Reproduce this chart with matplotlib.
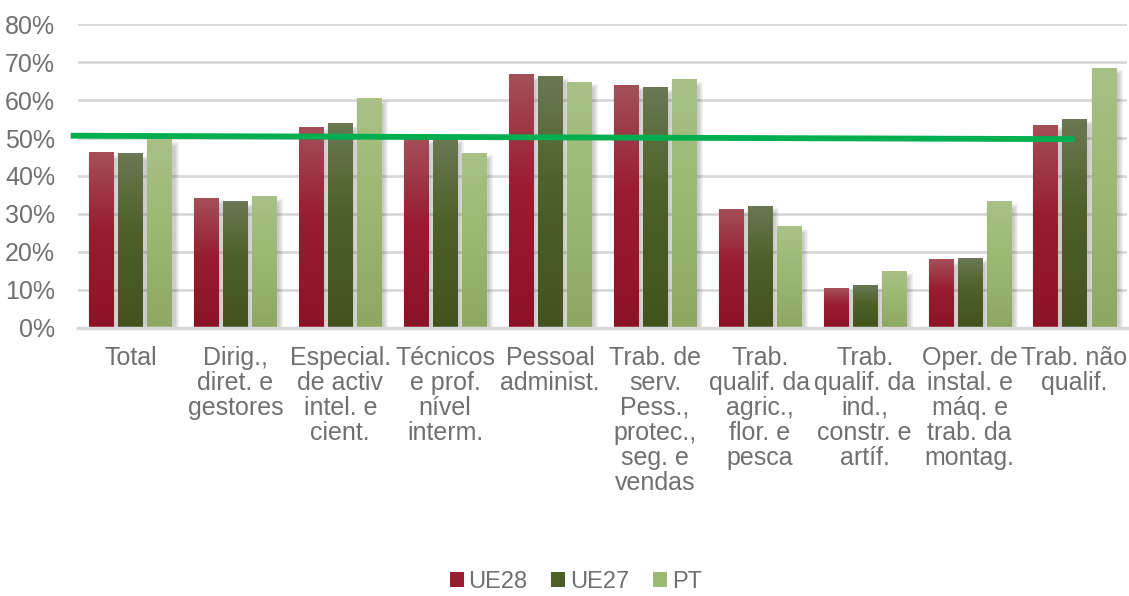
import numpy as np
import matplotlib.pyplot as plt
from matplotlib.patches import Rectangle, Patch
from matplotlib.ticker import PercentFormatter

plt.rcParams['font.family'] = ['Liberation Sans', 'DejaVu Sans']

categories = [
    "Total",
    "Dirig.,\ndiret. e\ngestores",
    "Especial.\nde activ\nintel. e\ncient.",
    "Técnicos\ne prof.\nnível\ninterm.",
    "Pessoal\nadminist.",
    "Trab. de\nserv.\nPess.,\nprotec.,\nseg. e\nvendas",
    "Trab.\nqualif. da\nagric.,\nflor. e\npesca",
    "Trab.\nqualif. da\nind.,\nconstr. e\nartíf.",
    "Oper. de\ninstal. e\nmáq. e\ntrab. da\nmontag.",
    "Trab. não\nqualif.",
]
series_names = ["UE28", "UE27", "PT"]
ue28 = [46.1, 34.2, 52.9, 49.8, 66.6, 63.9, 31.3, 10.5, 17.9, 53.4]
ue27 = [45.8, 33.2, 53.7, 50.0, 66.3, 63.2, 32.1, 11.1, 18.4, 55.0]
pt = [49.6, 34.5, 60.5, 46.0, 64.7, 65.3, 26.6, 15.0, 33.2, 68.4]
# green reference line (start / end value, %)
line_vals = [50.6, 49.7]

# gradient colours: top, middle, bottom
grads = {
    "UE28": ["#a34f59", "#991c30", "#8b1326"],
    "UE27": ["#6a7853", "#4d6027", "#43531f"],
    "PT":   ["#a9c187", "#9cb872", "#8ea864"],
}
text_col = "#707070"


def hex2rgb(h):
    return np.array([int(h[i:i + 2], 16) for i in (1, 3, 5)]) / 255.0


def gradient(cols, n=100):
    top, mid, bot = [hex2rgb(c) for c in cols]
    t = np.linspace(0, 1, n)
    img = np.zeros((n, 1, 3))
    for i, v in enumerate(t):
        if v < 0.45:
            f = v / 0.45
            img[i, 0] = top * (1 - f) + mid * f
        else:
            f = (v - 0.45) / 0.55
            img[i, 0] = mid * (1 - f) + bot * f
    return img


def draw_bar(ax, x0, w, h, cols):
    px = 1 / 104.9
    py = 0.01 / 3.8
    # soft shadow
    for k in range(5):
        ax.add_patch(Rectangle((x0 + 3 * px - k * px, -2 * py),
                               w + 2 * k * px, h - 4 * py + k * py,
                               facecolor="#404040", edgecolor="none",
                               alpha=0.06, zorder=1.5))
    ax.imshow(gradient(cols), extent=(x0, x0 + w, 0, h), aspect="auto",
              interpolation="bilinear", zorder=2)


fig = plt.figure(figsize=(11.29, 5.96), dpi=100)
ax = fig.add_axes([0.0691, 0.4497, 0.9291, 0.5100])

x = np.arange(len(categories))
width = 0.23
offsets = [-0.277, 0.0, 0.277]
for name, vals, off in zip(series_names, [ue28, ue27, pt], offsets):
    for xi, v in zip(x, vals):
        draw_bar(ax, xi + off - width / 2, width, v / 100, grads[name])

ax.plot([-0.57, 9.0], [line_vals[0] / 100, line_vals[1] / 100],
        color="#00b050", lw=4.2, zorder=5, clip_on=False,
        solid_capstyle="butt")

ax.set_xlim(-0.5, len(categories) - 0.5)
ax.set_ylim(0, 0.8)
ax.set_yticks(np.arange(0, 0.81, 0.1))
ax.yaxis.set_major_formatter(PercentFormatter(1.0, decimals=0))
ax.set_xticks(x)
ax.set_xticklabels(categories, linespacing=1.05, ha="center",
                   multialignment="center")
ax.tick_params(axis="both", length=0, colors=text_col, labelsize=18)
ax.tick_params(axis="x", pad=13)
ax.tick_params(axis="y", pad=16.5)
ax.grid(axis="y", color="#d9d9d9", lw=2, zorder=0)
ax.set_axisbelow(True)
for s in ["top", "right", "left"]:
    ax.spines[s].set_visible(False)
ax.spines["bottom"].set_color("#d9d9d9")
ax.spines["bottom"].set_linewidth(2.5)
ax.spines["bottom"].set_zorder(3)

handles = [Patch(facecolor=grads[n][1], edgecolor="none") for n in series_names]
fig.legend(handles, series_names, loc="lower center", ncol=3,
           bbox_to_anchor=(0.51, -0.03), frameon=False, fontsize=17,
           labelcolor=text_col, handlelength=0.6, handleheight=0.6,
           handletextpad=0.2, columnspacing=1.0)

fig.savefig("out.png", dpi=100)
